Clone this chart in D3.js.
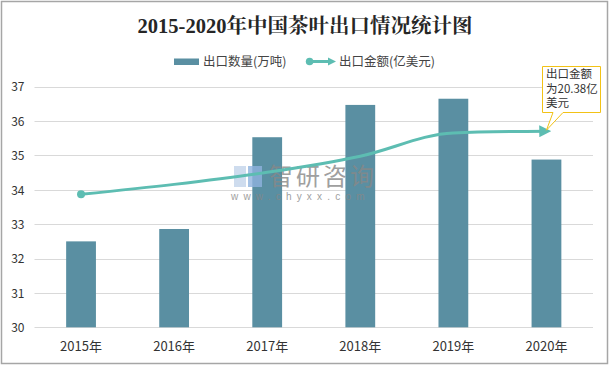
<!DOCTYPE html>
<html><head><meta charset="utf-8">
<script src="https://cdn.jsdelivr.net/npm/d3@7"></script>
<style>body{margin:0;background:#fff}svg{display:block}</style>
</head><body>
<script>
const years = ["2015年","2016年","2017年","2018年","2019年","2020年"];
const volume = [32.5, 32.86, 35.53, 36.47, 36.65, 34.88];
const value = [13.82, 14.85, 16.10, 17.78, 20.20, 20.38];
const yTicks = [30,31,32,33,34,35,36,37];
const titleText = "2015-2020年中国茶叶出口情况统计图";
const legendBar = "出口数量(万吨)";
const legendLine = "出口金额(亿美元)";
const calloutLines = ["出口金额","为20.38亿","美元"];

(function(){
const W=612,H=368;
const svg=d3.select("body").append("svg").attr("width",W).attr("height",H);
svg.append("rect").attr("x",1.5).attr("y",1.5).attr("width",606).attr("height",362)
  .attr("fill","#fff").attr("stroke","#a6a6a6").attr("stroke-width",1.5);

const pl=34.5,pr=593,pt=86.7,pb=327.3;
const x=d3.scaleBand().domain(years).range([pl,pr]).paddingInner(0.68).paddingOuter(0.34);
const y=d3.scaleLinear().domain([30,37]).range([pb,pt]);
const y2=d3.scaleLinear().domain([0,25]).range([pb,pt]);
const font="'Microsoft YaHei','Noto Sans CJK SC',sans-serif";
const teal="#5dbdb2", barC="#5a8fa2";

// grid
svg.append("g").selectAll("line").data(yTicks).join("line")
  .attr("x1",pl).attr("x2",pr).attr("y1",d=>Math.round(y(d))+0.5).attr("y2",d=>Math.round(y(d))+0.5)
  .attr("stroke","#d9d9d9").attr("stroke-width",1);

// y axis labels
const ya=svg.append("g").attr("transform",`translate(${pl-10},0)`)
  .call(d3.axisLeft(y).tickValues(yTicks).tickFormat(d3.format("d")).tickSize(0).tickPadding(0));
ya.select(".domain").remove();
ya.selectAll("text").attr("font-family",font).attr("font-size",12).attr("fill","#333").attr("dy","0.35em");

// x axis labels
const xa=svg.append("g").attr("transform",`translate(0,${pb})`)
  .call(d3.axisBottom(x).tickSize(0).tickPadding(14));
xa.select(".domain").remove();
xa.selectAll("text").attr("font-family",font).attr("font-size",13).attr("fill","#333");

// bars
svg.append("g").selectAll("rect").data(years).join("rect")
  .attr("x",d=>x(d)).attr("width",x.bandwidth())
  .attr("y",(d,i)=>y(volume[i])).attr("height",(d,i)=>pb-y(volume[i]))
  .attr("fill",barC);

// watermark
const wm=svg.append("g").attr("opacity",0.8);
wm.append("rect").attr("x",234).attr("y",166).attr("width",12).attr("height",21).attr("fill","#c3d4ea");
wm.append("rect").attr("x",248).attr("y",166).attr("width",14).attr("height",21).attr("fill","#8fb3df");
wm.append("text").attr("x",269).attr("y",185).text("智研咨询")
  .attr("font-family",font).attr("font-size",24).attr("letter-spacing",3).attr("fill","#888");
wm.append("text").attr("x",231).attr("y",200).text("www.chyxx.com")
  .attr("font-family","Arial,'Liberation Sans',sans-serif").attr("font-size",10).attr("letter-spacing",5.2).attr("fill","#888");

// line
const defs=svg.append("defs");
defs.append("marker").attr("id","arr").attr("viewBox","0 0 10 10").attr("refX",6).attr("refY",5)
  .attr("markerWidth",4).attr("markerHeight",4).attr("orient","auto")
  .append("path").attr("d","M0,0L10,5L0,10z").attr("fill",teal);
const pts=years.map((d,i)=>[x(d)+x.bandwidth()/2,y2(value[i])]);
svg.append("path").attr("d",d3.line().curve(d3.curveMonotoneX)(pts))
  .attr("fill","none").attr("stroke",teal).attr("stroke-width",3).attr("marker-end","url(#arr)");
svg.append("circle").attr("cx",pts[0][0]).attr("cy",pts[0][1]).attr("r",4).attr("fill",teal);

// title
svg.append("text").attr("x",305).attr("y",33).attr("text-anchor","middle").text(titleText)
  .attr("font-family","'Liberation Serif','Noto Serif CJK SC','Noto Sans CJK SC',serif").attr("font-weight","bold")
  .attr("font-size",20.5).attr("fill","#262626");

// legend
svg.append("rect").attr("x",174).attr("y",58.5).attr("width",25).attr("height",6.5).attr("fill",barC);
svg.append("text").attr("x",203).attr("y",66).text(legendBar).attr("font-family",font).attr("font-size",12.5).attr("fill","#444");
svg.append("line").attr("x1",309).attr("x2",330).attr("y1",61.5).attr("y2",61.5).attr("stroke",teal).attr("stroke-width",3);
svg.append("circle").attr("cx",309.6).attr("cy",61.5).attr("r",3.8).attr("fill",teal);
svg.append("path").attr("d","M328,57.5L336,61.5L328,65.5z").attr("fill",teal);
svg.append("text").attr("x",339).attr("y",66).text(legendLine).attr("font-family",font).attr("font-size",12.5).attr("fill","#444");

// callout
const ex=pts[5][0], ey=pts[5][1];
svg.append("path").attr("d",`M542.5,66.5H600.5V112.5H563L${ex},${ey-1}L553,112.5H542.5Z`)
  .attr("fill","#fff").attr("stroke","#f2c216").attr("stroke-width",1);
svg.append("g").selectAll("text").data(calloutLines).join("text")
  .attr("x",546).attr("y",(d,i)=>78+i*14.5).text(d=>d)
  .attr("font-family",font).attr("font-size",11.5).attr("fill","#333");
})();
</script>
</body></html>
